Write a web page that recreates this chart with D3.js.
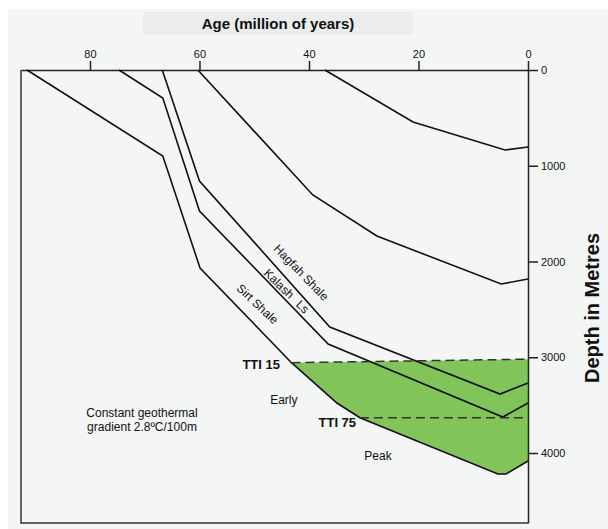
<!DOCTYPE html>
<html>
<head>
<meta charset="utf-8">
<script src="https://cdn.jsdelivr.net/npm/d3@7"></script>
<style>
  body { margin: 0; background: #fff; }
  svg { display: block; }
  text { font-family: "Liberation Sans", Arial, sans-serif; fill: #111; }
  .axis text { font-family: "Liberation Sans Narrow", "Liberation Sans", Arial, sans-serif; font-size: 11px; }
  .axis path, .axis line { stroke: #222; stroke-width: 1.5; }
</style>
</head>
<body>
<svg id="chart" width="608" height="529"></svg>
<script>
// burial history: age (Ma) vs depth (m) for each horizon
let sirtBase   = [[91.5,0],[66.7,898],[59.9,2068],[43.2,3057],[34.9,3478],[30.7,3631],[5.5,4219],[4.0,4219],[0,4084]];
let kalashBase = [[74.7,0],[66.7,292],[60.0,1473],[36.5,2862],[4.6,3624],[0,3478]];
let hagfahBase = [[66.8,0],[60.0,1159],[36.2,2684],[5.1,3384],[0,3269]];
let hagfahTop  = [[60.3,0],[39.3,1305],[27.6,1734],[4.9,2235],[0,2183]];
let youngest   = [[37.1,0],[21.0,543],[4.2,836],[0,804]];
let horizons = [sirtBase, kalashBase, hagfahBase, hagfahTop, youngest];

// maturity (TTI) thresholds
let tti15 = [[43.2,3057],[0,3020]];
let tti75 = [[30.7,3631],[0,3631]];

let ageTicks = [80, 60, 40, 20, 0];
let depthTicks = [0, 1000, 2000, 3000, 4000];

// set the dimensions of the graph
let plot = {left: 21, right: 528, top: 70, bottom: 523};

let svg = d3.select("#chart");

// background panels
svg.append("rect").attr("x", 8).attr("y", 9).attr("width", 600).attr("height", 520).attr("fill", "#f4f5f5");
svg.append("rect").attr("x", 143).attr("y", 12).attr("width", 270).attr("height", 22).attr("fill", "#ebecec");

// set the ranges
let x = d3.scaleLinear().domain([92.6, 0]).range([plot.left, plot.right]);
let y = d3.scaleLinear().domain([0, 4731]).range([plot.top, plot.bottom]);

let line = d3.line().x(d => x(d[0])).y(d => y(d[1]));

// oil window fill: below TTI 15, above the deepest horizon
let fill = sirtBase.filter(d => d[0] <= tti15[0][0]).concat([tti15[1]]);
svg.append("path")
    .attr("d", line(fill) + "Z")
    .attr("fill", "#81c45a");

// frame
svg.append("path")
    .attr("d", "M" + plot.left + "," + plot.top + "V" + plot.bottom + "H" + plot.right)
    .attr("fill", "none").attr("stroke", "#333").attr("stroke-width", 1.5);

// axes
svg.append("g")
    .attr("class", "axis")
    .attr("transform", "translate(0," + plot.top + ")")
    .call(d3.axisTop(x).tickValues(ageTicks).tickSize(9).tickSizeOuter(0).tickPadding(3)
            .tickFormat(d3.format("d")));

svg.append("g")
    .attr("class", "axis")
    .attr("transform", "translate(" + plot.right + ",0)")
    .call(d3.axisRight(y).tickValues(depthTicks).tickSize(10).tickSizeOuter(0).tickPadding(3)
            .tickFormat(d3.format("d")));

// horizons
svg.selectAll(".horizon")
    .data(horizons)
  .enter().append("path")
    .attr("class", "horizon")
    .attr("d", line)
    .attr("fill", "none")
    .attr("stroke", "#111")
    .attr("stroke-width", 1.6)
    .attr("stroke-linejoin", "miter");

// TTI dashed lines
svg.selectAll(".tti")
    .data([tti15, tti75])
  .enter().append("path")
    .attr("class", "tti")
    .attr("d", line)
    .attr("fill", "none")
    .attr("stroke", "#333")
    .attr("stroke-width", 1.5)
    .attr("stroke-dasharray", "9,5");

// titles
svg.append("text")
    .attr("x", 278).attr("y", 29)
    .attr("text-anchor", "middle")
    .style("font-size", "15px").style("font-weight", "bold")
    .text("Age (million of years)");

svg.append("text")
    .attr("transform", "translate(599,308) rotate(-90)")
    .attr("text-anchor", "middle")
    .style("font-size", "20px").style("font-weight", "bold")
    .text("Depth in Metres");

// formation names along the lines
let formations = [
  {name: "Hagfah Shale", age: 41.4, depth: 2115, angle: 46},
  {name: "Kalash Ls", age: 44.1, depth: 2308, angle: 44},
  {name: "Sirt Shale", age: 49.4, depth: 2444, angle: 43}
];
svg.selectAll(".formation")
    .data(formations)
  .enter().append("text")
    .attr("class", "formation")
    .attr("transform", d => "translate(" + x(d.age) + "," + y(d.depth) + ") rotate(" + d.angle + ")")
    .attr("text-anchor", "middle")
    .attr("dy", "0.35em")
    .style("font-size", "12px")
    .style("word-spacing", d => d.name === "Kalash Ls" ? "5px" : null)
    .text(d => d.name);

// other annotations
let notes = [
  {text: "TTI 15", age: 45.3, depth: 3070, anchor: "end", bold: true},
  {text: "TTI 75", age: 31.4, depth: 3684, anchor: "end", bold: true},
  {text: "Early", age: 44.6, depth: 3446, anchor: "middle", bold: false},
  {text: "Peak", age: 27.4, depth: 4031, anchor: "middle", bold: false},
  {text: "Constant geothermal", age: 70.5, depth: 3582, anchor: "middle", bold: false},
  {text: "gradient 2.8ºC/100m", age: 70.5, depth: 3725, anchor: "middle", bold: false}
];
svg.selectAll(".note")
    .data(notes)
  .enter().append("text")
    .attr("class", "note")
    .attr("x", d => x(d.age))
    .attr("y", d => y(d.depth))
    .attr("dy", "0.35em")
    .attr("text-anchor", d => d.anchor)
    .style("font-size", d => d.bold ? "13px" : "12px")
    .style("font-weight", d => d.bold ? "bold" : "normal")
    .text(d => d.text);
</script>
</body>
</html>
